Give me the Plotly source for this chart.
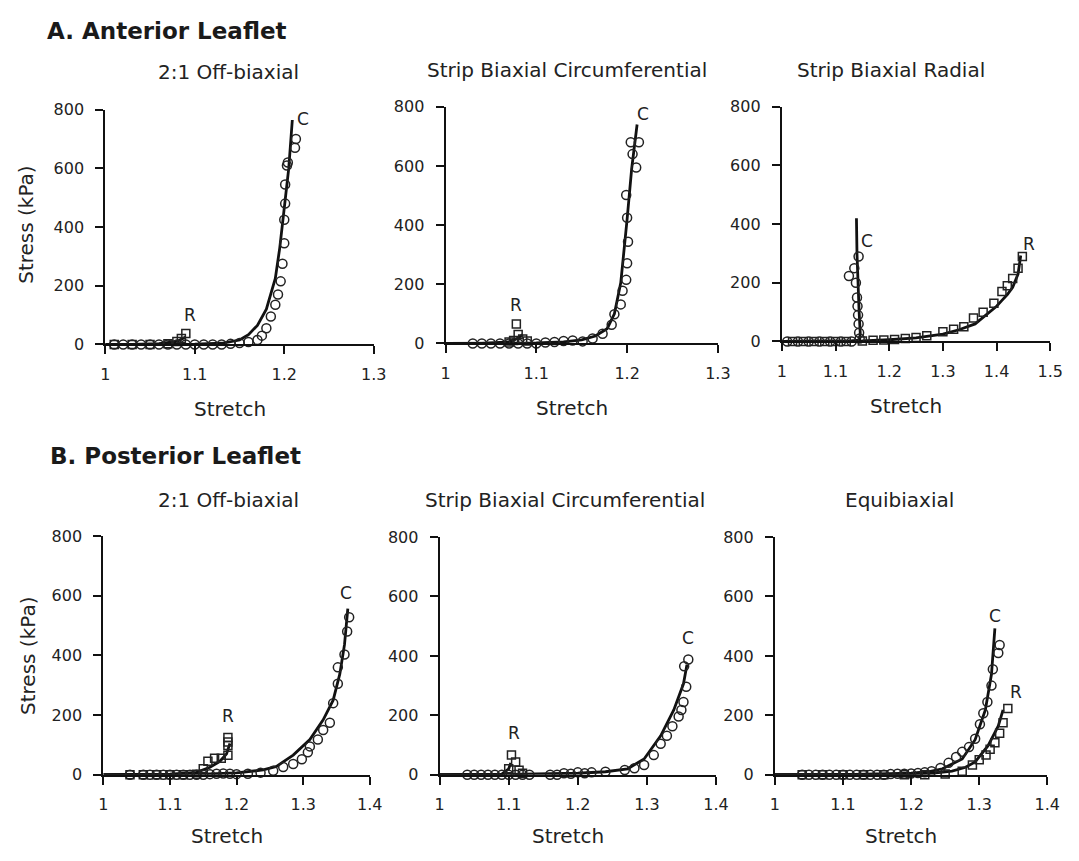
import plotly.graph_objects as go

W, H = 1079, 861
FONT = "DejaVu Sans"
INK = "#1a1a1a"

# ---------------- A. Anterior leaflet ----------------
# 2:1 off-biaxial
a1_c_fit_x = [1.00, 1.05, 1.10, 1.13, 1.15, 1.16, 1.17, 1.18, 1.19, 1.195, 1.20, 1.205, 1.209]
a1_c_fit_y = [0, 0, 1, 4, 15, 33, 65, 120, 225, 330, 460, 600, 765]
a1_c_dat_x = [1.01, 1.02, 1.03, 1.04, 1.05, 1.06, 1.07, 1.08, 1.09, 1.10, 1.11, 1.12, 1.13, 1.14,
              1.15, 1.16, 1.17, 1.175, 1.18, 1.185, 1.19, 1.193, 1.196, 1.198, 1.20, 1.20, 1.201,
              1.201, 1.203, 1.204, 1.212, 1.213]
a1_c_dat_y = [0, 0, 0, 0, 0, 0, 0, 0, 0, 0, 0, 0, 0, 2, 5, 8, 15, 30, 55, 95, 135, 170, 215, 275,
              345, 425, 480, 545, 610, 620, 670, 700]
a1_r_fit_x = [1.00, 1.03, 1.06, 1.08, 1.09]
a1_r_fit_y = [0, 0, 3, 10, 25]
a1_r_dat_x = [1.01, 1.03, 1.05, 1.07, 1.08, 1.085, 1.09]
a1_r_dat_y = [0, 0, 0, 2, 10, 20, 37]

# strip biaxial circumferential
a2_c_fit_x = [1.00, 1.05, 1.10, 1.13, 1.15, 1.165, 1.178, 1.186, 1.193, 1.20, 1.205, 1.211]
a2_c_fit_y = [0, 0, 2, 5, 12, 25, 50, 100, 205, 420, 590, 740]
a2_c_dat_x = [1.03, 1.04, 1.05, 1.06, 1.07, 1.08, 1.09, 1.10, 1.11, 1.12, 1.13, 1.14, 1.151,
              1.162, 1.173, 1.183, 1.186, 1.193, 1.195, 1.199, 1.20, 1.201, 1.20, 1.199, 1.206,
              1.21, 1.204, 1.213]
a2_c_dat_y = [0, 0, 0, 0, 0, 0, 0, 0, 3, 5, 8, 10, 7, 17, 33, 63, 99, 132, 178, 215, 271, 344,
              425, 502, 640, 595, 680, 680]
a2_r_fit_x = [1.00, 1.04, 1.07, 1.08, 1.085]
a2_r_fit_y = [0, 0, 5, 18, 30]
a2_r_dat_x = [1.07, 1.075, 1.078, 1.08, 1.085, 1.09]
a2_r_dat_y = [5, 10, 66, 30, 15, 8]

# strip biaxial radial
a3_c_fit_x = [1.00, 1.05, 1.10, 1.13, 1.145, 1.146, 1.144, 1.142, 1.140, 1.139]
a3_c_fit_y = [0, 0, 0, 2, 5, 30, 100, 200, 300, 420]
a3_c_dat_x = [1.01, 1.03, 1.05, 1.07, 1.09, 1.11, 1.13, 1.145, 1.144, 1.143, 1.142, 1.141, 1.140,
              1.138, 1.135, 1.125, 1.143]
a3_c_dat_y = [0, 0, 0, 0, 0, 0, 0, 10, 30, 60, 90, 120, 150, 200, 250, 223, 290]
a3_r_fit_x = [1.00, 1.10, 1.15, 1.20, 1.25, 1.30, 1.33, 1.36, 1.38, 1.40, 1.41, 1.42, 1.43,
              1.44, 1.445]
a3_r_fit_y = [0, 0, 2, 6, 12, 25, 40, 60, 90, 120, 140, 160, 185, 230, 293]
a3_r_dat_x = [1.02, 1.04, 1.06, 1.08, 1.10, 1.12, 1.15, 1.17, 1.19, 1.21, 1.23, 1.25, 1.27,
              1.30, 1.32, 1.339, 1.357, 1.375, 1.395, 1.41, 1.42, 1.43, 1.44, 1.448]
a3_r_dat_y = [0, 0, 0, 0, 0, 0, 2, 4, 5, 7, 10, 14, 20, 33, 42, 50, 80, 100, 130, 170, 190,
              215, 250, 290]

# ---------------- B. Posterior leaflet ----------------
# 2:1 off-biaxial
b1_c_fit_x = [1.00, 1.10, 1.15, 1.20, 1.22, 1.24, 1.26, 1.285, 1.31, 1.33, 1.345, 1.355,
              1.362, 1.367]
b1_c_fit_y = [0, 0, 2, 6, 10, 16, 28, 66, 118, 184, 250, 338, 436, 557]
b1_c_dat_x = [1.04, 1.06, 1.07, 1.08, 1.09, 1.10, 1.11, 1.12, 1.13, 1.14, 1.15, 1.16, 1.17,
              1.18, 1.19, 1.20, 1.217, 1.236, 1.255, 1.27, 1.285, 1.298, 1.307, 1.31, 1.322,
              1.33, 1.34, 1.345, 1.352, 1.352, 1.362, 1.366, 1.369]
b1_c_dat_y = [0, 0, 0, 0, 0, 0, 0, 0, 0, 0, 0, 2, 3, 4, 3, 2, 3, 7, 13, 26, 36, 52, 75, 95,
              118, 150, 174, 240, 305, 360, 403, 480, 528]
b1_r_fit_x = [1.00, 1.10, 1.14, 1.16, 1.175, 1.185, 1.19]
b1_r_fit_y = [0, 2, 8, 25, 45, 70, 105]
b1_r_dat_x = [1.04, 1.06, 1.08, 1.10, 1.12, 1.14, 1.15, 1.157, 1.167, 1.177, 1.187, 1.187,
              1.187, 1.187]
b1_r_dat_y = [0, 0, 0, 0, 0, 2, 20, 45, 55, 55, 65, 98, 125, 110]

# strip biaxial circumferential
b2_c_fit_x = [1.00, 1.10, 1.20, 1.24, 1.272, 1.296, 1.32, 1.339, 1.353, 1.358]
b2_c_fit_y = [0, 1, 5, 10, 20, 53, 131, 218, 306, 370]
b2_c_dat_x = [1.04, 1.05, 1.06, 1.07, 1.08, 1.09, 1.10, 1.11, 1.12, 1.13, 1.16, 1.17, 1.18,
              1.19, 1.20, 1.21, 1.22, 1.24, 1.268, 1.282, 1.296, 1.31, 1.32, 1.329, 1.337,
              1.346, 1.35, 1.353, 1.357, 1.354, 1.36]
b2_c_dat_y = [0, 0, 0, 0, 0, 0, 0, 0, 0, 0, 0, 0, 5, 3, 8, 5, 8, 10, 16, 22, 33, 66, 104,
              131, 163, 196, 218, 245, 296, 365, 388]
b2_r_fit_x = [1.00, 1.09, 1.10, 1.103]
b2_r_fit_y = [0, 2, 20, 40]
b2_r_dat_x = [1.10, 1.104, 1.11, 1.115, 1.12]
b2_r_dat_y = [20, 66, 43, 15, 5]

# equibiaxial
b3_c_fit_x = [1.00, 1.10, 1.20, 1.225, 1.246, 1.275, 1.294, 1.309, 1.318, 1.323]
b3_c_fit_y = [0, 0, 5, 10, 20, 53, 118, 218, 338, 493]
b3_c_dat_x = [1.04, 1.05, 1.06, 1.07, 1.08, 1.09, 1.10, 1.11, 1.12, 1.13, 1.14, 1.15, 1.16,
              1.17, 1.18, 1.19, 1.20, 1.21, 1.22, 1.23, 1.243, 1.255, 1.266, 1.275, 1.285,
              1.294, 1.301, 1.306, 1.312, 1.318, 1.32, 1.328, 1.33]
b3_c_dat_y = [0, 0, 0, 0, 0, 0, 0, 0, 0, 0, 0, 0, 0, 2, 3, 3, 4, 6, 8, 12, 23, 40, 60, 77,
              93, 121, 170, 207, 245, 300, 355, 410, 437]
b3_r_fit_x = [1.00, 1.10, 1.20, 1.23, 1.26, 1.28, 1.294, 1.313, 1.328, 1.335]
b3_r_fit_y = [0, 0, 2, 5, 12, 25, 43, 98, 164, 218]
b3_r_dat_x = [1.04, 1.07, 1.10, 1.13, 1.16, 1.19, 1.22, 1.25, 1.275, 1.29, 1.30, 1.31, 1.316,
              1.323, 1.33, 1.335, 1.342]
b3_r_dat_y = [0, 0, 0, 0, 0, 0, 0, 2, 12, 33, 50, 66, 86, 108, 140, 175, 223]

# axis ticks
stress_ticks = [0, 200, 400, 600, 800]
stretch_ticks_13 = [1, 1.1, 1.2, 1.3]
stretch_ticks_14 = [1, 1.1, 1.2, 1.3, 1.4]
stretch_ticks_15 = [1, 1.1, 1.2, 1.3, 1.4, 1.5]

# panel titles, curve labels
row_titles = ["A. Anterior Leaflet", "B. Posterior Leaflet"]
panel_titles = ["2:1 Off-biaxial", "Strip Biaxial Circumferential", "Strip Biaxial Radial",
                "2:1 Off-biaxial", "Strip Biaxial Circumferential", "Equibiaxial"]
c_label_pos = [(1.221, 770), (1.218, 777), (1.158, 343), (1.365, 610), (1.36, 460), (1.323, 536)]
r_label_pos = [(1.0945, 100), (1.078, 129), (1.461, 333), (1.187, 197), (1.107, 141), (1.354, 280)]

panels = [
    (a1_c_fit_x, a1_c_fit_y, a1_c_dat_x, a1_c_dat_y, a1_r_fit_x, a1_r_fit_y, a1_r_dat_x, a1_r_dat_y),
    (a2_c_fit_x, a2_c_fit_y, a2_c_dat_x, a2_c_dat_y, a2_r_fit_x, a2_r_fit_y, a2_r_dat_x, a2_r_dat_y),
    (a3_c_fit_x, a3_c_fit_y, a3_c_dat_x, a3_c_dat_y, a3_r_fit_x, a3_r_fit_y, a3_r_dat_x, a3_r_dat_y),
    (b1_c_fit_x, b1_c_fit_y, b1_c_dat_x, b1_c_dat_y, b1_r_fit_x, b1_r_fit_y, b1_r_dat_x, b1_r_dat_y),
    (b2_c_fit_x, b2_c_fit_y, b2_c_dat_x, b2_c_dat_y, b2_r_fit_x, b2_r_fit_y, b2_r_dat_x, b2_r_dat_y),
    (b3_c_fit_x, b3_c_fit_y, b3_c_dat_x, b3_c_dat_y, b3_r_fit_x, b3_r_fit_y, b3_r_dat_x, b3_r_dat_y),
]
x_ticks = [stretch_ticks_13, stretch_ticks_13, stretch_ticks_15,
           stretch_ticks_14, stretch_ticks_14, stretch_ticks_14]

# plot-area boxes in pixels: left, right, top (800 kPa), bottom (0 kPa)
boxes = [(102, 375, 103, 343), (448, 725, 100, 342), (790, 1063, 100, 340),
         (100, 371, 539, 783), (442, 723, 540, 783), (783, 1060, 540, 783)]
title_px = [(227, 64), (572, 62), (901, 62), (227, 502), (570, 502), (910, 502)]


def px(x):
    return x / W


def py(y):
    return 1 - y / H


fig = go.Figure()
layout = dict(width=W, height=H, margin=dict(l=0, r=0, t=0, b=0),
              paper_bgcolor="white", plot_bgcolor="white", showlegend=False,
              font=dict(family=FONT, color=INK))
annotations = []

for i, (data, ticks, box) in enumerate(zip(panels, x_ticks, boxes)):
    n = "" if i == 0 else str(i + 1)
    xa, ya = "x" + n, "y" + n
    cfx, cfy, cdx, cdy, rfx, rfy, rdx, rdy = data
    line = dict(color="#111111", width=2.8)
    fig.add_trace(go.Scatter(x=rfx, y=rfy, mode="lines", line=line, xaxis=xa, yaxis=ya,
                             cliponaxis=False))
    fig.add_trace(go.Scatter(x=cfx, y=cfy, mode="lines", line=line, xaxis=xa, yaxis=ya,
                             cliponaxis=False))
    fig.add_trace(go.Scatter(x=rdx, y=rdy, mode="markers", xaxis=xa, yaxis=ya, cliponaxis=False,
                             marker=dict(symbol="square-open", size=8, color="#222222",
                                         line=dict(width=1.5))))
    fig.add_trace(go.Scatter(x=cdx, y=cdy, mode="markers", xaxis=xa, yaxis=ya, cliponaxis=False,
                             marker=dict(symbol="circle-open", size=9, color="#222222",
                                         line=dict(width=1.5))))
    l, r, t, b = box
    axis_common = dict(showline=True, linecolor="#111111", linewidth=2, ticks="outside",
                       ticklen=8, tickwidth=2, tickcolor="#111111", showgrid=False,
                       zeroline=False, tickfont=dict(family=FONT, size=16, color="#222222"))
    layout["xaxis" + n] = dict(domain=[px(l), px(r)], range=[ticks[0], ticks[-1]],
                               tickvals=ticks, ticktext=[f"{v:g}" for v in ticks],
                               anchor=ya, ticklabelstandoff=6, **axis_common)
    layout["yaxis" + n] = dict(domain=[py(b), py(t)], range=[0, 800], tickvals=stress_ticks,
                               ticktext=[str(v) for v in stress_ticks], anchor=xa,
                               ticklabelstandoff=8, **axis_common)

    tx, ty = title_px[i]
    annotations.append(dict(text=panel_titles[i], x=px(tx), y=py(ty), xref="paper", yref="paper",
                            xanchor="center", yanchor="middle", showarrow=False,
                            font=dict(size=20, family=FONT, color="#222222")))
    annotations.append(dict(text="Stretch", x=px((l + r) / 2 - 10), y=py(b + 66 if i < 3 else b + 63),
                            xref="paper", yref="paper", xanchor="center", yanchor="middle",
                            showarrow=False, font=dict(size=20, family=FONT, color="#222222")))
    for lab, (lx, ly) in (("C", c_label_pos[i]), ("R", r_label_pos[i])):
        annotations.append(dict(text=lab, x=lx, y=ly, xref=xa, yref=ya, showarrow=False,
                                xanchor="center", yanchor="middle",
                                font=dict(size=17, family=FONT, color="#222222")))

# row headings and shared y-axis titles
for text, (x0, y0) in zip(row_titles, [(41, 22), (44, 457)]):
    annotations.append(dict(text=f"<b>{text}</b>", x=px(x0), y=py(y0), xref="paper", yref="paper",
                            xanchor="left", yanchor="middle", showarrow=False,
                            font=dict(size=23, family=FONT, color="#1a1a1a")))
for (x0, y0) in [(21, 221), (24, 662)]:
    annotations.append(dict(text="Stress (kPa)", x=px(x0), y=py(y0), xref="paper", yref="paper",
                            xanchor="center", yanchor="middle", textangle=-90, showarrow=False,
                            font=dict(size=20, family=FONT, color="#222222")))

layout["annotations"] = annotations
fig.update_layout(**layout)
fig.write_html("out.html")
